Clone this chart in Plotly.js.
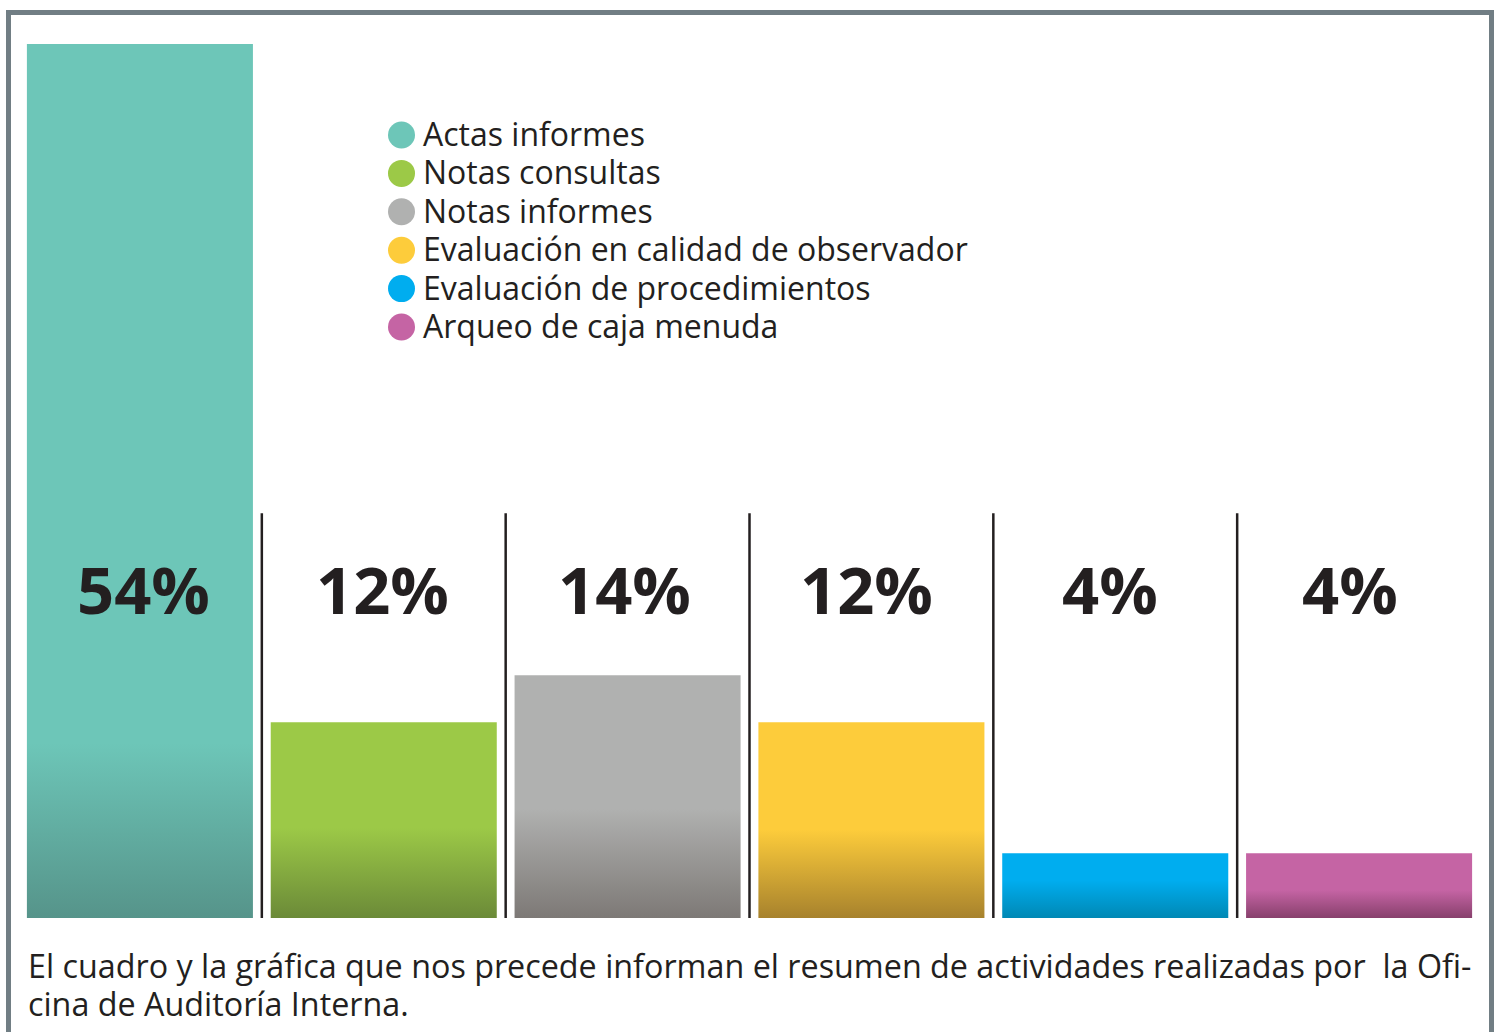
<!DOCTYPE html>
<html>
<head>
<meta charset="utf-8">
<script src="https://cdn.plot.ly/plotly-3.0.1.min.js"></script>
<style>
html,body{margin:0;padding:0;background:#fff;}
#chart{width:1501px;height:1032px;}
</style>
</head>
<body>
<div id="chart"></div>
<script>
// ---- data ----
const categories = ["Actas informes","Notas consultas","Notas informes","Evaluación en calidad de observador","Evaluación de procedimientos","Arqueo de caja menuda"];
const barHeights = [54, 12.1, 15, 12.1, 4, 4];
const percentLabels = ["54%","12%","14%","12%","4%","4%"];
const captionLines = ["El cuadro y la gráfica que nos precede informan el resumen de actividades realizadas por  la Ofi-", "cina de Auditoría Interna."];

// ---- style ----
const topColors = ["#6dc6b8","#9cc947","#b0b1b0","#fdcc3b","#00adef","#c564a4"];
const bottomColors = ["#56948a","#6b8a38","#7d7976","#a7822d","#0088b4","#87406c"];
const gradStart = [0.80, 0.54, 0.55, 0.55, 0.42, 0.57];
const labelShift = [3.5, -1, -3.5, -5, -5.5, -9];
const textColor = "#231f20";

const W = 1501, H = 1032, ML = 18, MR = 20, MT = 44, MB = 114;
const PW = W - ML - MR, PH = H - MT - MB;
const xp = px => (px - ML) / PW;
const yp = py => (H - MB - py) / PH;

const trace = {
  type: "bar",
  x: categories,
  y: barHeights,
  marker: {color: topColors, line: {width: 0}},
  hoverinfo: "skip",
  showlegend: false
};

const annotations = [];
const shapes = [];
const lineSpacing = {}; // annotation index -> px between lines

// percent labels
categories.forEach((c, i) => {
  annotations.push({
    x: c, y: 20.3, xref: "x", yref: "y", xshift: labelShift[i],
    text: percentLabels[i], showarrow: false,
    font: {family: "Open Sans", size: 65, weight: 700, color: textColor},
    xanchor: "center", yanchor: "middle"
  });
});

// separators between categories
for (let i = 0; i < categories.length - 1; i++) {
  shapes.push({
    type: "line", xref: "x", yref: "y",
    x0: i + 0.5, x1: i + 0.5, y0: 0, y1: 25,
    line: {color: textColor, width: 2.5}
  });
}

// custom legend with large circle markers
const legendTop = 133, legendStep = 38.4;
categories.forEach((c, i) => {
  const cy = legendTop + i * legendStep;
  shapes.push({
    type: "circle", xref: "paper", yref: "paper",
    xsizemode: "pixel", ysizemode: "pixel",
    xanchor: xp(401.5), yanchor: yp(cy + 2),
    x0: -13.5, x1: 13.5, y0: -13.5, y1: 13.5,
    fillcolor: topColors[i], line: {width: 0}
  });
});
lineSpacing[annotations.length] = legendStep;
annotations.push({
  x: xp(421), y: yp(legendTop - 23), xref: "paper", yref: "paper",
  text: categories.join("<br>"), showarrow: false, xanchor: "left", yanchor: "top", align: "left",
  font: {family: "Open Sans", size: 32, color: textColor}
});

// caption
lineSpacing[annotations.length] = 38;
annotations.push({
  x: xp(26), y: yp(941), xref: "paper", yref: "paper",
  text: captionLines.join("<br>"), showarrow: false, xanchor: "left", yanchor: "top", align: "left",
  font: {family: "Open Sans", size: 32.3, color: textColor}
});

// frame
shapes.push({
  type: "path", xref: "paper", yref: "paper",
  path: `M ${xp(8.5)} ${yp(1045)} L ${xp(8.5)} ${yp(12.5)} L ${xp(1491.5)} ${yp(12.5)} L ${xp(1491.5)} ${yp(1045)}`,
  line: {color: "#717e84", width: 5}
});

const layout = {
  width: W, height: H,
  margin: {l: ML, r: MR, t: MT, b: MB, pad: 0},
  paper_bgcolor: "#ffffff", plot_bgcolor: "#ffffff",
  bargap: 0.073,
  showlegend: false,
  xaxis: {visible: false, range: [-0.5, categories.length - 0.5], fixedrange: true},
  yaxis: {visible: false, range: [0, 54], fixedrange: true},
  annotations: annotations,
  shapes: shapes
};

Plotly.newPlot("chart", [trace], layout, {displayModeBar: false, staticPlot: true}).then(gd => {
  const ns = "http://www.w3.org/2000/svg";
  // tighter line spacing for multi-line texts
  Object.keys(lineSpacing).forEach(k => {
    const g = gd.querySelector('.annotation[data-index="' + k + '"]');
    if (!g) return;
    g.querySelectorAll("tspan.line").forEach((t, i) => {
      t.setAttribute("dy", (i * lineSpacing[k]) + "px");
    });
  });
  // bar gradients
  const svg = gd.querySelector(".main-svg");
  let defs = svg.querySelector("defs");
  if (!defs) { defs = document.createElementNS(ns, "defs"); svg.insertBefore(defs, svg.firstChild); }
  const paths = gd.querySelectorAll(".barlayer .point path");
  paths.forEach((p, i) => {
    const g = document.createElementNS(ns, "linearGradient");
    g.setAttribute("id", "barGrad" + i);
    g.setAttribute("x1", "0"); g.setAttribute("y1", "0");
    g.setAttribute("x2", "0"); g.setAttribute("y2", "1");
    [[0, topColors[i]], [gradStart[i], topColors[i]], [1, bottomColors[i]]].forEach(([o, c]) => {
      const s = document.createElementNS(ns, "stop");
      s.setAttribute("offset", o); s.setAttribute("stop-color", c);
      g.appendChild(s);
    });
    defs.appendChild(g);
    p.style.fill = "url(#barGrad" + i + ")";
  });
});
</script>
</body>
</html>
